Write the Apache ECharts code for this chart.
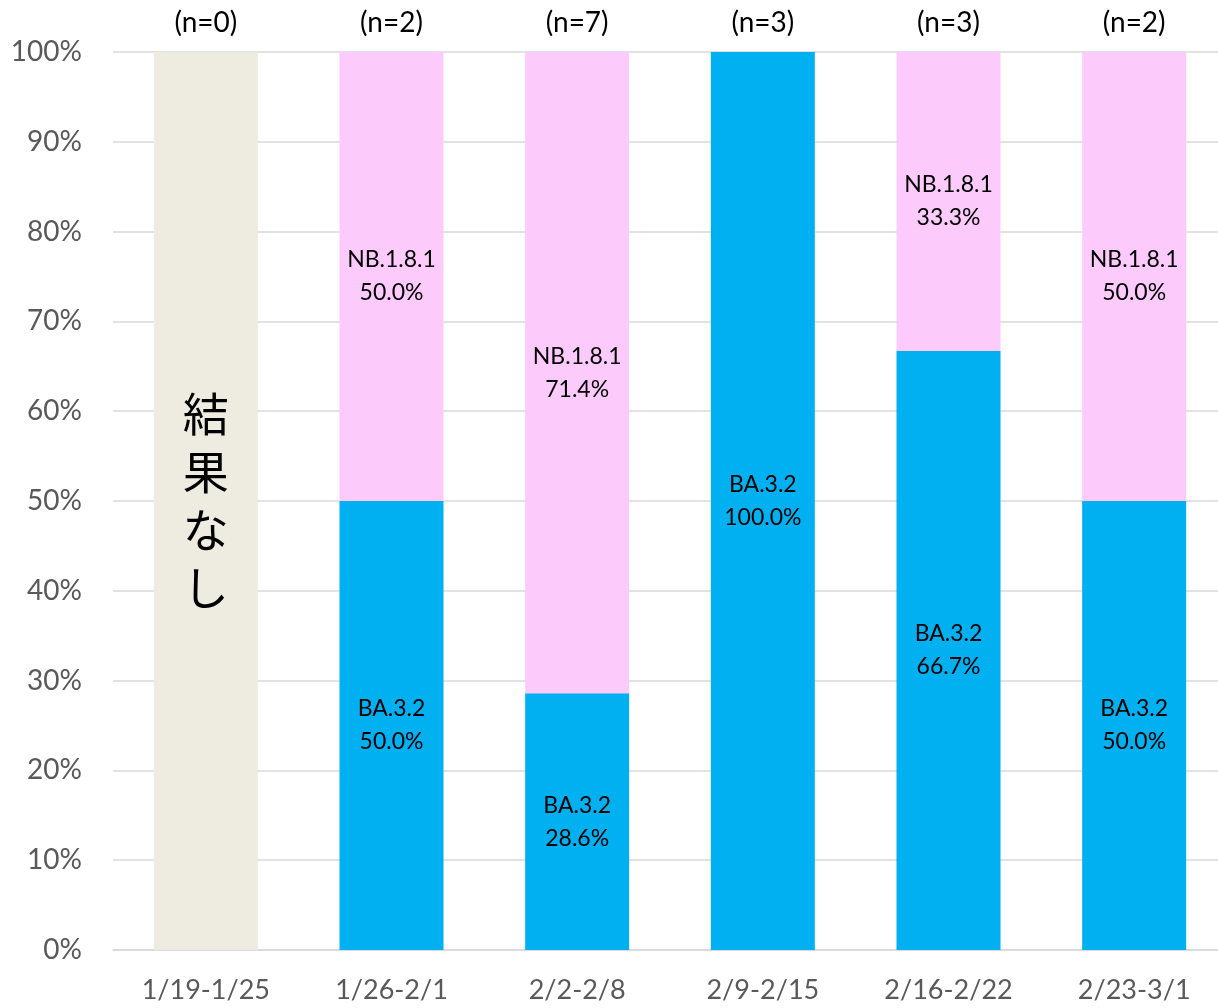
<!DOCTYPE html>
<html><head><meta charset="utf-8">
<script src="https://cdn.jsdelivr.net/npm/echarts@6/dist/echarts.min.js"></script>
<style>html,body{margin:0;padding:0;background:#fff;overflow:hidden}#c{width:1227px;height:1008px}</style>
</head><body><div id="c"></div>
<script>
const categories = ['1/19-1/25','1/26-2/1','2/2-2/8','2/9-2/15','2/16-2/22','2/23-3/1'];
const nLabels = ['(n=0)','(n=2)','(n=7)','(n=3)','(n=3)','(n=2)'];
const ba32 = [null, 50.0, 28.6, 100.0, 66.7, 50.0];
const nb181 = [null, 50.0, 71.4, null, 33.3, 50.0];
const noResult = [100, null, null, null, null, null];
const yTicks = [0,10,20,30,40,50,60,70,80,90,100];

const FONT = 'Lato, "Noto Sans CJK JP", sans-serif';
const chart = echarts.init(document.getElementById('c'), null, {renderer:'canvas'});
const dataLabel = {
  show: true, position: 'inside', color: '#000', fontSize: 23, lineHeight: 33,
  fontFamily: FONT,
  formatter: p => p.value == null ? '' : p.seriesName + '\n' + p.value.toFixed(1) + '%'
};
chart.setOption({
  animation: false,
  grid: {left: 113, right: 0, top: 52, bottom: 58, containLabel: false},
  xAxis: [{
    type: 'category', data: categories,
    axisLine: {show: true, lineStyle: {color: '#D9D9D9', width: 1.5}},
    axisTick: {show: false},
    axisLabel: {color: '#595959', fontSize: 27, fontFamily: FONT, margin: 27}
  }, {
    type: 'category', data: nLabels, position: 'top',
    axisLine: {show: false}, axisTick: {show: false},
    axisLabel: {color: '#000', fontSize: 28, fontFamily: FONT, margin: 15}
  }],
  yAxis: {
    type: 'value', min: 0, max: 100, interval: 10,
    axisLine: {show: false}, axisTick: {show: false},
    splitLine: {lineStyle: {color: '#D9D9D9', width: 1.5}},
    axisLabel: {color: '#595959', fontSize: 28, fontFamily: FONT, margin: 31,
      formatter: v => yTicks.includes(v) ? v + '%' : ''}
  },
  series: [{
    name: '結果なし', type: 'bar', stack: 'a', data: noResult, barWidth: 104,
    itemStyle: {color: '#EEEBE1'},
    label: {show: true, position: 'inside', color: '#000', fontSize: 46, lineHeight: 58,
      fontFamily: '"Noto Sans CJK JP", sans-serif',
      formatter: p => p.value == null ? '' : p.seriesName.split('').join('\n')}
  }, {
    name: 'BA.3.2', type: 'bar', stack: 'a', data: ba32, barWidth: 101,
    itemStyle: {color: '#00B0F0'}, label: dataLabel
  }, {
    name: 'NB.1.8.1', type: 'bar', stack: 'a', data: nb181, barWidth: 101,
    itemStyle: {color: '#FCCBFC'}, label: dataLabel
  }]
});
</script></body></html>
